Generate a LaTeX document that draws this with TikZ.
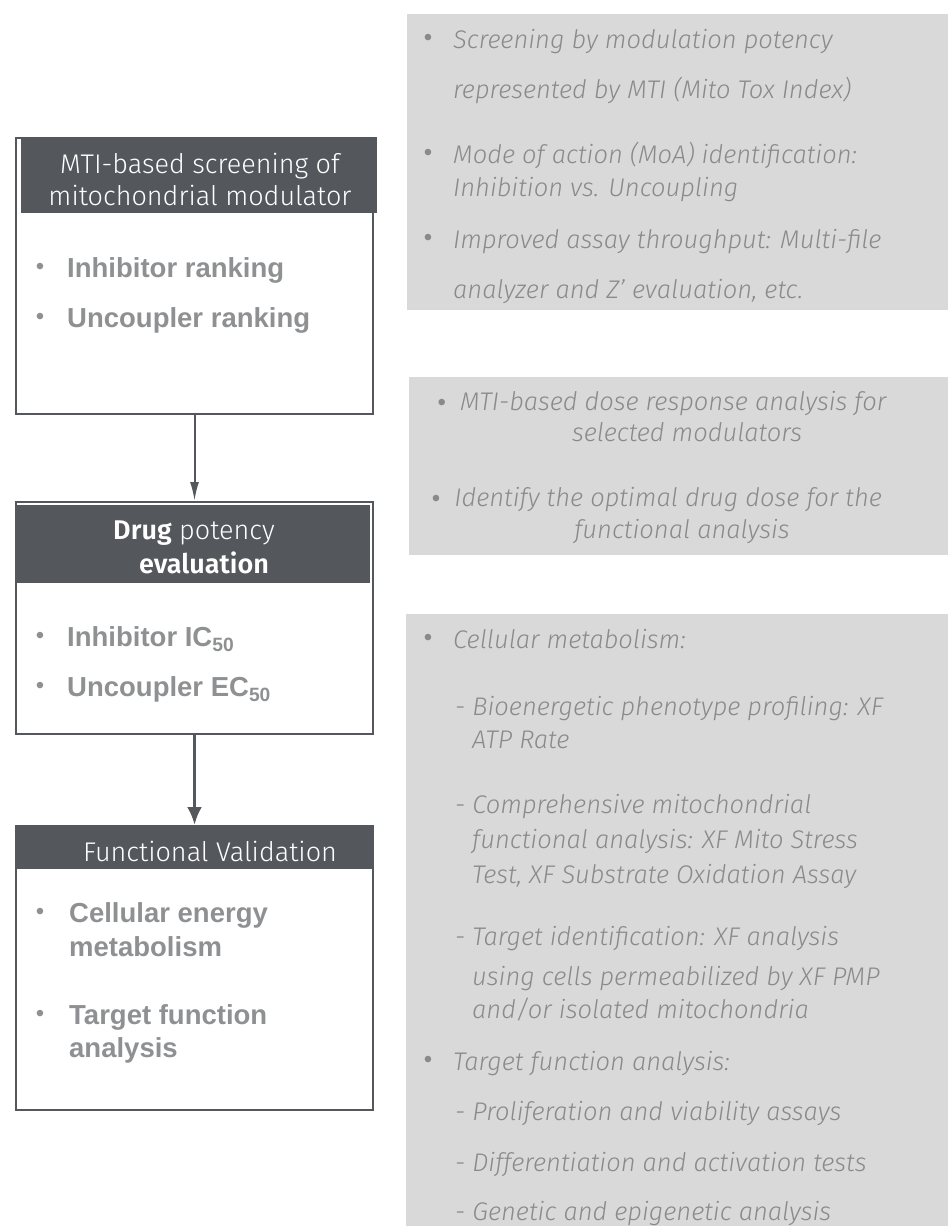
\documentclass[tikz,border=0pt]{standalone}
\usepackage{fontspec}
\usetikzlibrary{arrows.meta}
\setmainfont{Liberation Sans}
\newfontfamily\lightf{Fira Sans Light}[ItalicFont={Fira Sans Light Italic}, BoldFont={Fira Sans SemiBold}]
\definecolor{dark}{HTML}{54585C}
\definecolor{panel}{HTML}{D9D9D9}
\definecolor{bodytxt}{HTML}{8E9092}
\definecolor{ittxt}{HTML}{8A8A8A}
\newcommand{\pbul}{{\normalfont\fontsize{24}{28}\selectfont\textbullet}}
\begin{document}
\begin{tikzpicture}[x=1pt,y=-1pt,
  boxo/.style={draw=dark, line width=2pt, fill=white, inner sep=0pt},
  hdr/.style={fill=dark, inner sep=0pt},
  hdrtxt/.style={text=white, font=\lightf\fontsize{27}{32}\selectfont, inner sep=0pt, align=center},
  pnl/.style={fill=panel, inner sep=0pt},
  bt/.style={anchor=west, inner sep=0pt, text height=19.5pt, text depth=0pt, text=bodytxt, font=\bfseries\fontsize{27.5}{32}\selectfont},
  bdot/.style={anchor=center, inner sep=0pt, text=bodytxt, font=\fontsize{24}{28}\selectfont},
  it/.style={anchor=west, inner sep=0pt, text height=17.5pt, text depth=0pt, text=ittxt, font=\lightf\itshape\fontsize{25.5}{30}\selectfont},
  itc/.style={it, anchor=center},
  idot/.style={anchor=center, inner sep=0pt, text=ittxt, font=\fontsize{24}{28}\selectfont},
  arr/.style={draw=dark, -{Latex[length=19pt,width=9pt]}, line width=2pt},
  arrb/.style={draw=dark, -{Latex[length=18pt,width=15pt]}, line width=3.5pt}
]
\useasboundingbox (0,0) rectangle (948,1226);

% right panels
\node[pnl, minimum width=541pt, minimum height=296pt] (p1) at (677.5,162) {};
\node[pnl, minimum width=539pt, minimum height=178pt] (p2) at (678.5,466) {};
\node[pnl, minimum width=542pt, minimum height=612pt] (p3) at (677,920) {};

% left boxes
\node[boxo, minimum width=357pt, minimum height=276pt] (b1) at (194.5,276) {};
\node[hdr, minimum width=356pt, minimum height=76pt] (h1) at (199,175) {};
\node[hdrtxt] (h1t) at (200,179) {MTI-based screening of\\mitochondrial modulator};

\node[boxo, minimum width=357pt, minimum height=232pt] (b2) at (194.5,618) {};
\node[hdr, minimum width=354pt, minimum height=78pt] (h2) at (193,544) {};
\node[hdrtxt] (h2a) at (194,533) {\textbf{Drug} potency};
\node[hdrtxt] (h2b) at (204,563) {\textbf{evaluation}};

\node[boxo, minimum width=357pt, minimum height=284pt] (b3) at (194.5,968) {};
\node[hdr, minimum width=357pt, minimum height=43pt] (h3) at (194.5,847.5) {};
\node[hdrtxt] (h3t) at (210,851) {Functional Validation};

% arrows
\draw[arr] (b1.south) -- (b2.north);
\draw[arrb] (b2.south) -- (b3.north);

% left bullets
\node[bdot] (d11) at (40,269) {\textbullet};
\node[bt] (t11) at (67,268) {Inhibitor ranking};
\node[bdot] (d12) at (40,319) {\textbullet};
\node[bt] (t12) at (67,318) {Uncoupler ranking};

\node[bdot] (d21) at (40,638) {\textbullet};
\node[bt] (t21) at (67,637) {Inhibitor IC\textsubscript{50}};
\node[bdot] (d22) at (40,688) {\textbullet};
\node[bt] (t22) at (67,687) {Uncoupler EC\textsubscript{50}};

\node[bdot] (d31) at (40,914) {\textbullet};
\node[bt] (t31) at (69,913) {Cellular energy};
\node[bt] (t31b) at (69,947) {metabolism};
\node[bdot] (d32) at (40,1016) {\textbullet};
\node[bt] (t32) at (69,1015) {Target function};
\node[bt] (t32b) at (69,1048) {analysis};

% panel 1 text
\node[idot] (e1) at (428,40) {\textbullet};
\node[it] (r1) at (453,40) {Screening by modulation potency};
\node[it] (r2) at (453,90) {represented by MTI (Mito Tox Index)};
\node[idot] (e2) at (428,155) {\textbullet};
\node[it] (r3) at (453,155) {Mode of action (MoA) identification:};
\node[it] (r4) at (453,188) {Inhibition vs. Uncoupling};
\node[idot] (e3) at (428,240) {\textbullet};
\node[it] (r5) at (453,240) {Improved assay throughput: Multi-file};
\node[it] (r6) at (453,290) {analyzer and Z’ evaluation, etc.};

% panel 2 text
\node[itc] (s1) at (662,402) {\pbul\hspace{14pt}MTI-based dose response analysis for};
\node[itc] (s2) at (687,433) {selected modulators};
\node[itc] (s3) at (657,498) {\pbul\hspace{14pt}Identify the optimal drug dose for the};
\node[itc] (s4) at (682,530) {functional analysis};

% panel 3 text
\node[idot] (f0) at (428,640) {\textbullet};
\node[it] (u1) at (453,640) {Cellular metabolism:};
\node[it] (u2) at (455,707) {- Bioenergetic phenotype profiling: XF};
\node[it] (u3) at (472,740) {ATP Rate};
\node[it] (u4) at (455,805) {- Comprehensive mitochondrial};
\node[it] (u5) at (472,840) {functional analysis: XF Mito Stress};
\node[it] (u6) at (472,875) {Test, XF Substrate Oxidation Assay};
\node[it] (u7) at (455,937) {- Target identification: XF analysis};
\node[it] (u8) at (472,977) {using cells permeabilized by XF PMP};
\node[it] (u9) at (472,1010) {and/or isolated mitochondria};
\node[idot] (f1) at (428,1062) {\textbullet};
\node[it] (u10) at (453,1062) {Target function analysis:};
\node[it] (u11) at (455,1112) {- Proliferation and viability assays};
\node[it] (u12) at (455,1163) {- Differentiation and activation tests};
\node[it] (u13) at (455,1212) {- Genetic and epigenetic analysis};
\end{tikzpicture}
\end{document}
